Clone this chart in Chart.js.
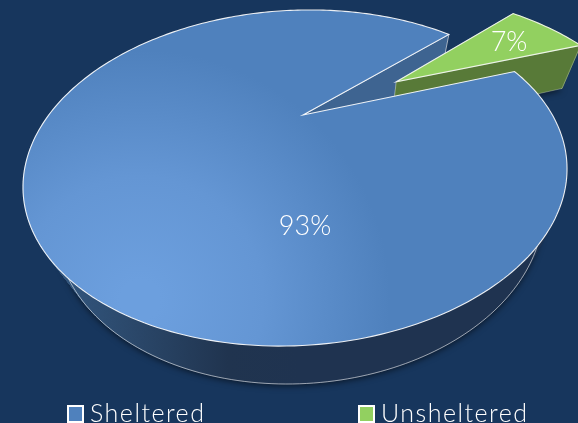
<!DOCTYPE html>
<html>
<head>
<meta charset="utf-8">
<title>Sheltered / Unsheltered</title>
<script src="https://cdn.jsdelivr.net/npm/chart.js@4/dist/chart.umd.js"></script>
<style>
    html, body { margin: 0; padding: 0; background: #17365d; overflow: hidden; }
    canvas { display: block; }
</style>
</head>
<body>
<canvas id="pie" width="578" height="423"></canvas>
<script>
const categories = ['Sheltered', 'Unsheltered'];
const shares = [93, 7];
const sliceColors = ['#4f81bd', '#92d060'];

// tilt of the disc: maps a point of the flat pie (radius 1) on to the page
const apex = { x: 303, y: 115 };
const tilt = { a: 251.4, b: -18.3, c: 3.7, d: 144.4, p: 0.375 };
// floor of the pie, drawn towards a vanishing point
const vanish = { x: 332, y: 621, h: 0.1 };

function project(u, v) {
    const w = 1 - tilt.p * v;
    return {
        x: apex.x + (tilt.a * u + tilt.b * v) / w,
        y: apex.y + (tilt.c * u + tilt.d * v) / w,
        w: w
    };
}

function dropped(pt) {
    const t = vanish.h / (pt.w + vanish.h);
    return { x: pt.x + (vanish.x - pt.x) * t, y: pt.y + (vanish.y - pt.y) * t };
}

// rim and centre of one arc element, in page coordinates
function sliceShape(arc) {
    const p = arc.getProps(['startAngle', 'endAngle', 'outerRadius']);
    const mid = (p.startAngle + p.endAngle) / 2;
    const off = (arc.options.offset || 0) / p.outerRadius;
    const ox = Math.cos(mid) * off, oy = Math.sin(mid) * off;
    const rim = [];
    const steps = Math.ceil((p.endAngle - p.startAngle) / 0.02);
    for (let i = 0; i <= steps; i++) {
        const a = p.startAngle + (p.endAngle - p.startAngle) * i / steps;
        rim.push(project(ox + Math.cos(a), oy + Math.sin(a)));
    }
    return { centre: project(ox, oy), rim: rim };
}

function trace(ctx, pts, close) {
    ctx.beginPath();
    pts.forEach((pt, i) => i ? ctx.lineTo(pt.x, pt.y) : ctx.moveTo(pt.x, pt.y));
    if (close) ctx.closePath();
}

function drawWalls(ctx, shape, rimFill, cutFill, edge) {
    const topPts = [shape.centre].concat(shape.rim);
    const floorPts = topPts.map(dropped);

    // rim wall first, the cut faces go over it inside the notch
    ctx.fillStyle = rimFill;
    ctx.strokeStyle = rimFill;
    ctx.lineWidth = 1;
    for (let i = 1; i < topPts.length - 1; i++) {
        trace(ctx, [topPts[i], topPts[i + 1], floorPts[i + 1], floorPts[i]], true);
        ctx.fill();
        ctx.stroke();
    }

    trace(ctx, floorPts.slice(1), false);
    ctx.strokeStyle = edge;
    ctx.lineWidth = 0.8;
    ctx.stroke();

    ctx.fillStyle = cutFill;
    [1, topPts.length - 1].forEach(i => {
        trace(ctx, [topPts[0], topPts[i], floorPts[i], floorPts[0]], true);
        ctx.fill();
        ctx.strokeStyle = edge;
        ctx.lineWidth = 0.8;
        ctx.stroke();
    });
}

function drawTop(ctx, shape, fill, edge) {
    trace(ctx, [shape.centre].concat(shape.rim), true);
    ctx.fillStyle = fill;
    ctx.fill();
    ctx.strokeStyle = edge;
    ctx.lineWidth = 1.1;
    ctx.stroke();
}

function drawLegend(ctx) {
    ctx.save();
    ctx.font = '300 25px Lato';
    ctx.letterSpacing = '1.5px';
    ctx.textAlign = 'left';
    ctx.textBaseline = 'alphabetic';
    categories.forEach((name, i) => {
        const left = i ? 359 : 68;
        ctx.fillStyle = sliceColors[i];
        ctx.fillRect(left, 406, 15, 16);
        ctx.strokeStyle = '#ffffff';
        ctx.lineWidth = 2;
        ctx.strokeRect(left, 406, 15, 16);
        ctx.fillStyle = '#ffffff';
        ctx.fillText(name, left + 22, 422);
    });
    ctx.restore();
}

const tiltedPie = {
    id: 'tiltedPie',
    beforeDatasetsDraw(chart) {
        const ctx = chart.ctx;
        const arcs = chart.getDatasetMeta(0).data;
        const blue = sliceShape(arcs[0]);
        const green = sliceShape(arcs[1]);

        ctx.save();

        // soft shadow under the body
        ctx.save();
        ctx.shadowColor = 'rgba(0,0,0,0.55)';
        ctx.shadowBlur = 6;
        ctx.shadowOffsetY = 2;
        ctx.fillStyle = '#1f3350';
        trace(ctx, blue.rim.map(dropped), true);
        ctx.fill();
        trace(ctx, green.rim.map(dropped).concat(dropped(green.centre)), true);
        ctx.fill();
        ctx.restore();

        const wall = ctx.createLinearGradient(60, 0, 300, 0);
        wall.addColorStop(0, '#33577f');
        wall.addColorStop(0.7, '#20344f');
        wall.addColorStop(1, '#1f3350');
        drawWalls(ctx, blue, wall, '#3e6491', 'rgba(255,255,255,0.7)');
        drawWalls(ctx, green, '#587a38', '#587a38', 'rgba(255,255,255,0.35)');
        drawTop(ctx, green, sliceColors[1], 'rgba(255,255,255,0.85)');

        const face = ctx.createRadialGradient(140, 300, 20, 140, 300, 250);
        face.addColorStop(0, '#6c9fde');
        face.addColorStop(0.45, '#6496d4');
        face.addColorStop(1, sliceColors[0]);
        drawTop(ctx, blue, face, 'rgba(255,255,255,0.9)');

        // percent labels
        ctx.fillStyle = '#ffffff';
        ctx.font = '300 27px Lato';
        ctx.textAlign = 'center';
        ctx.textBaseline = 'middle';
        ctx.fillText(shares[0] + '%', 305, 226);
        ctx.fillText(shares[1] + '%', 509, 42);
        ctx.restore();

        drawLegend(ctx);
        return false;
    }
};

new Chart(document.getElementById('pie'), {
    type: 'pie',
    plugins: [tiltedPie],
    data: {
        labels: categories,
        datasets: [{
            data: shares,
            backgroundColor: sliceColors,
            borderColor: '#ffffff',
            borderWidth: 2,
            offset: [0, 80]
        }]
    },
    options: {
        responsive: false,
        animation: false,
        rotation: 68.5,
        plugins: {
            tooltip: { enabled: false },
            legend: { display: false }
        }
    }
});
</script>
</body>
</html>
